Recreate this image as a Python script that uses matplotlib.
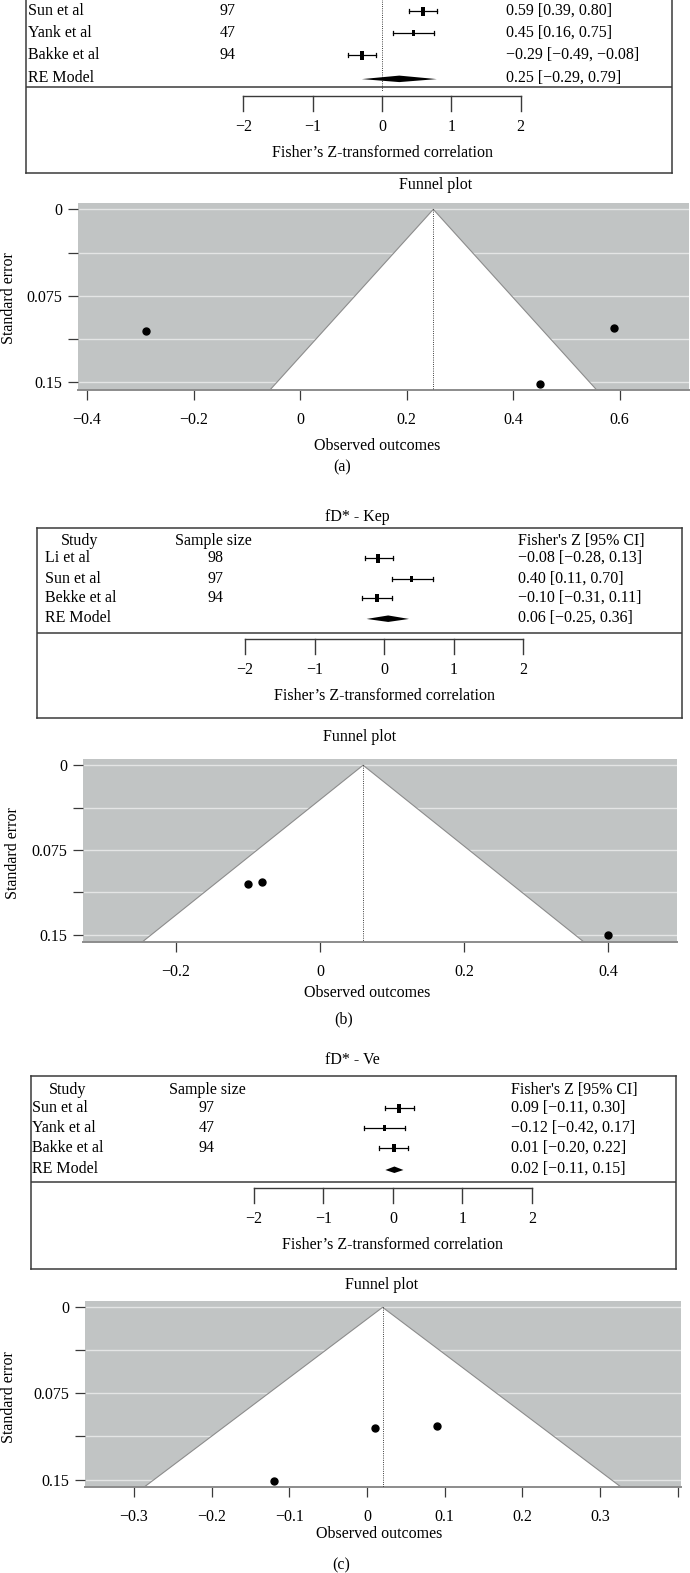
import matplotlib

matplotlib.use("Agg")
import matplotlib.pyplot as plt
from matplotlib.patches import Polygon, Rectangle

plt.rcParams["font.family"] = ["Liberation Serif", "DejaVu Serif"]
plt.rcParams["font.size"] = 11.5

# ---- data ----
# (a) first outcome (title and header row cut off in the source)
A_STUDIES = ["Sun et al", "Yank et al", "Bakke et al"]
A_N = [97, 47, 94]
A_Z = [0.59, 0.45, -0.29]
A_LO = [0.39, 0.16, -0.49]
A_HI = [0.80, 0.75, -0.08]
A_RE = [0.25, -0.29, 0.79]
A_SE = [0.103, 0.151, 0.105]

# (b) fD* - Kep
B_STUDIES = ["Li et al", "Sun et al", "Bekke et al"]
B_N = [98, 97, 94]
B_Z = [-0.08, 0.40, -0.10]
B_LO = [-0.28, 0.11, -0.31]
B_HI = [0.13, 0.70, 0.11]
B_RE = [0.06, -0.25, 0.36]
B_SE = [0.103, 0.150, 0.105]

# (c) fD* - Ve
C_STUDIES = ["Sun et al", "Yank et al", "Bakke et al"]
C_N = [97, 47, 94]
C_Z = [0.09, -0.12, 0.01]
C_LO = [-0.11, -0.42, -0.20]
C_HI = [0.30, 0.17, 0.22]
C_RE = [0.02, -0.11, 0.15]
C_SE = [0.103, 0.151, 0.105]

FOREST_TICKS = [-2, -1, 0, 1, 2]
SE_TICKS = [0, 0.0375, 0.075, 0.1125, 0.15]
SE_LABELS = ["0", "", "0.075", "", "0.15"]

W, H = 690, 1573
GRAY = "#c1c4c4"
LINE = "#3a3a3a"
MINUS = "\u2212"

fig = plt.figure(figsize=(W / 100, H / 100), dpi=100)


def px_axes(left, top, right, bottom):
    return fig.add_axes([left / W, 1 - bottom / H, (right - left) / W, (bottom - top) / H])


def fig_text(x, y, s, **kw):
    fig.text(x / W, 1 - y / H, s, **kw)


def fmt(v):
    return f"{v:.2f}".replace("-", MINUS)


def draw_forest(box, zero, unit, rows, header_y, sep_y, axis_y, cols,
                studies, ns, zs, los, his, re, ref_line=False):
    left, top, right, bottom = box
    ax = px_axes(left, top, right, bottom)
    ax.set_xlim((left - zero) / unit, (right - zero) / unit)
    ax.set_ylim(bottom, top)
    ax.set_xticks([])
    ax.set_yticks([])
    for sp in ax.spines.values():
        sp.set_color(LINE)
        sp.set_linewidth(1.1)

    def xd(px):
        return (px - zero) / unit

    study_hdr, name_x, n_hdr, n_x, ci_x = cols
    if header_y is not None:
        ax.text(xd(study_hdr), header_y, "Study", ha="center", va="center")
        ax.text(xd(n_hdr), header_y, "Sample size", ha="left", va="center")
        ax.text(xd(ci_x), header_y, "Fisher's Z [95% CI]", ha="left", va="center")

    ses = [(h - l) / 3.92 for l, h in zip(los, his)]
    wmax = max(1 / s ** 2 for s in ses)
    for y, name, n, z, lo, hi, s in zip(rows, studies, ns, zs, los, his, ses):
        ax.text(xd(name_x), y, name, ha="left", va="center")
        ax.text(xd(n_x), y, str(n), ha="center", va="center")
        ax.text(xd(ci_x), y, f"{fmt(z)} [{fmt(lo)}, {fmt(hi)}]", ha="left", va="center")
        ax.plot([lo, hi], [y, y], color="black", lw=0.9)
        ax.plot([lo, lo], [y - 2, y + 2], color="black", lw=0.9)
        ax.plot([hi, hi], [y - 2, y + 2], color="black", lw=0.9)
        frac = ((1 / s ** 2) / wmax) ** 0.5
        bw, bh = 4.0 * frac / unit, 9 * frac
        ax.add_patch(Rectangle((z - bw / 2, y - bh / 2), bw, bh, color="black", lw=0))

    y_re = rows[-1] + (rows[-1] - rows[-2]) * 1.05
    est, lo, hi = re
    ax.text(xd(name_x), y_re, "RE Model", ha="left", va="center")
    ax.text(xd(ci_x), y_re, f"{fmt(est)} [{fmt(lo)}, {fmt(hi)}]", ha="left", va="center")
    ax.add_patch(Polygon([(lo, y_re + 1), (est, y_re - 2.5), (hi, y_re + 1), (est, y_re + 4)],
                         closed=True, color="black", lw=0))

    ax.axhline(sep_y, color=LINE, lw=1.1)
    if ref_line:
        ax.plot([0, 0], [top, sep_y + 4], color="black", lw=0.6, ls=":")

    # hand-drawn metafor-style axis
    ax.plot([FOREST_TICKS[0], FOREST_TICKS[-1]], [axis_y, axis_y], color=LINE, lw=1.0)
    for t in FOREST_TICKS:
        ax.plot([t, t], [axis_y, axis_y + 15], color=LINE, lw=1.0)
        ax.text(t, axis_y + 31, str(t).replace("-", MINUS), ha="center", va="center")
    ax.text(0, axis_y + 57, "Fisher\u2019s Z-transformed correlation", ha="center", va="center")
    return ax


def draw_funnel(box, xlim, xticks, xlabels, est, zs, ses):
    left, top, right, bottom = box
    ax = px_axes(left, top, right, bottom)
    se_top = -0.0055
    se_bot = 0.1565
    ax.set_facecolor(GRAY)
    ax.set_xlim(*xlim)
    ax.set_ylim(se_bot, se_top)
    for g in SE_TICKS:
        ax.axhline(g, color="#e4e5e5", lw=1.0, zorder=1)
    fx = [est - 1.96 * se_bot, est, est + 1.96 * se_bot]
    fy = [se_bot, 0, se_bot]
    ax.fill(fx, fy, color="white", lw=0, zorder=2)
    ax.plot(fx, fy, color="#8c8c8c", lw=0.8, zorder=3)
    ax.plot([est, est], [0, se_bot], color="black", lw=0.6, ls=":", zorder=3)
    ax.plot(zs, ses, "o", color="black", ms=5, zorder=5)

    for name in ("left", "top", "right"):
        ax.spines[name].set_visible(False)
    ax.spines["bottom"].set_color("#8c8c8c")
    ax.spines["bottom"].set_linewidth(1.4)
    ax.set_yticks(SE_TICKS)
    ax.set_yticklabels(SE_LABELS)
    ax.set_xticks(xticks)
    ax.set_xticklabels(xlabels)
    ax.tick_params(axis="both", length=7, width=0.9, color=LINE, pad=4)
    ax.tick_params(axis="x", pad=9)
    return ax


def labels(vals):
    return ["0" if v == 0 else f"{v:g}".replace("-", MINUS) for v in vals]


# ---------------- (a) ----------------
draw_forest((26, -32, 672, 173), 382, 69.3, [11, 33, 55], None, 87, 96,
            (65, 28, 165, 228, 506),
            A_STUDIES, A_N, A_Z, A_LO, A_HI, A_RE, ref_line=True)
fig_text(436, 185, "Funnel plot", ha="center", va="center")
a_ticks = [-0.4, -0.2, 0, 0.2, 0.4, 0.6]
draw_funnel((78, 203, 689, 390), (-0.417, 0.73), a_ticks, labels(a_ticks),
            A_RE[0], A_Z, A_SE)
fig_text(9, 298, "Standard error", rotation=90, ha="center", va="center")
fig_text(377, 446, "Observed outcomes", ha="center", va="center")
fig_text(342, 467, "(a)", ha="center", va="center")

# ---------------- (b) ----------------
fig_text(357, 517, "fD* - Kep", ha="center", va="center")
draw_forest((37, 528, 682, 718), 384, 69.5, [558, 579, 598], 541, 633, 639,
            (80, 45, 175, 215, 518),
            B_STUDIES, B_N, B_Z, B_LO, B_HI, B_RE)
fig_text(360, 737, "Funnel plot", ha="center", va="center")
b_ticks = [-0.2, 0, 0.2, 0.4]
draw_funnel((83, 759, 677, 942), (-0.329, 0.496), b_ticks, labels(b_ticks),
            B_RE[0], B_Z, B_SE)
fig_text(13, 853, "Standard error", rotation=90, ha="center", va="center")
fig_text(367, 993, "Observed outcomes", ha="center", va="center")
fig_text(344, 1019, "(b)", ha="center", va="center")

# ---------------- (c) ----------------
fig_text(352, 1060, "fD* - Ve", ha="center", va="center")
draw_forest((31, 1076, 676, 1269), 393, 69.5, [1108, 1128, 1148], 1090, 1182, 1188,
            (68, 32, 169, 207, 511),
            C_STUDIES, C_N, C_Z, C_LO, C_HI, C_RE)
fig_text(382, 1285, "Funnel plot", ha="center", va="center")
c_ticks = [-0.3, -0.2, -0.1, 0, 0.1, 0.2, 0.3, 0.4]
draw_funnel((85, 1301, 681, 1487), (-0.363, 0.404), c_ticks, labels(c_ticks[:-1]) + [""],
            C_RE[0], C_Z, C_SE)
fig_text(9, 1397, "Standard error", rotation=90, ha="center", va="center")
fig_text(379, 1534, "Observed outcomes", ha="center", va="center")
fig_text(341, 1565, "(c)", ha="center", va="center")

fig.savefig("out.png", dpi=100)
